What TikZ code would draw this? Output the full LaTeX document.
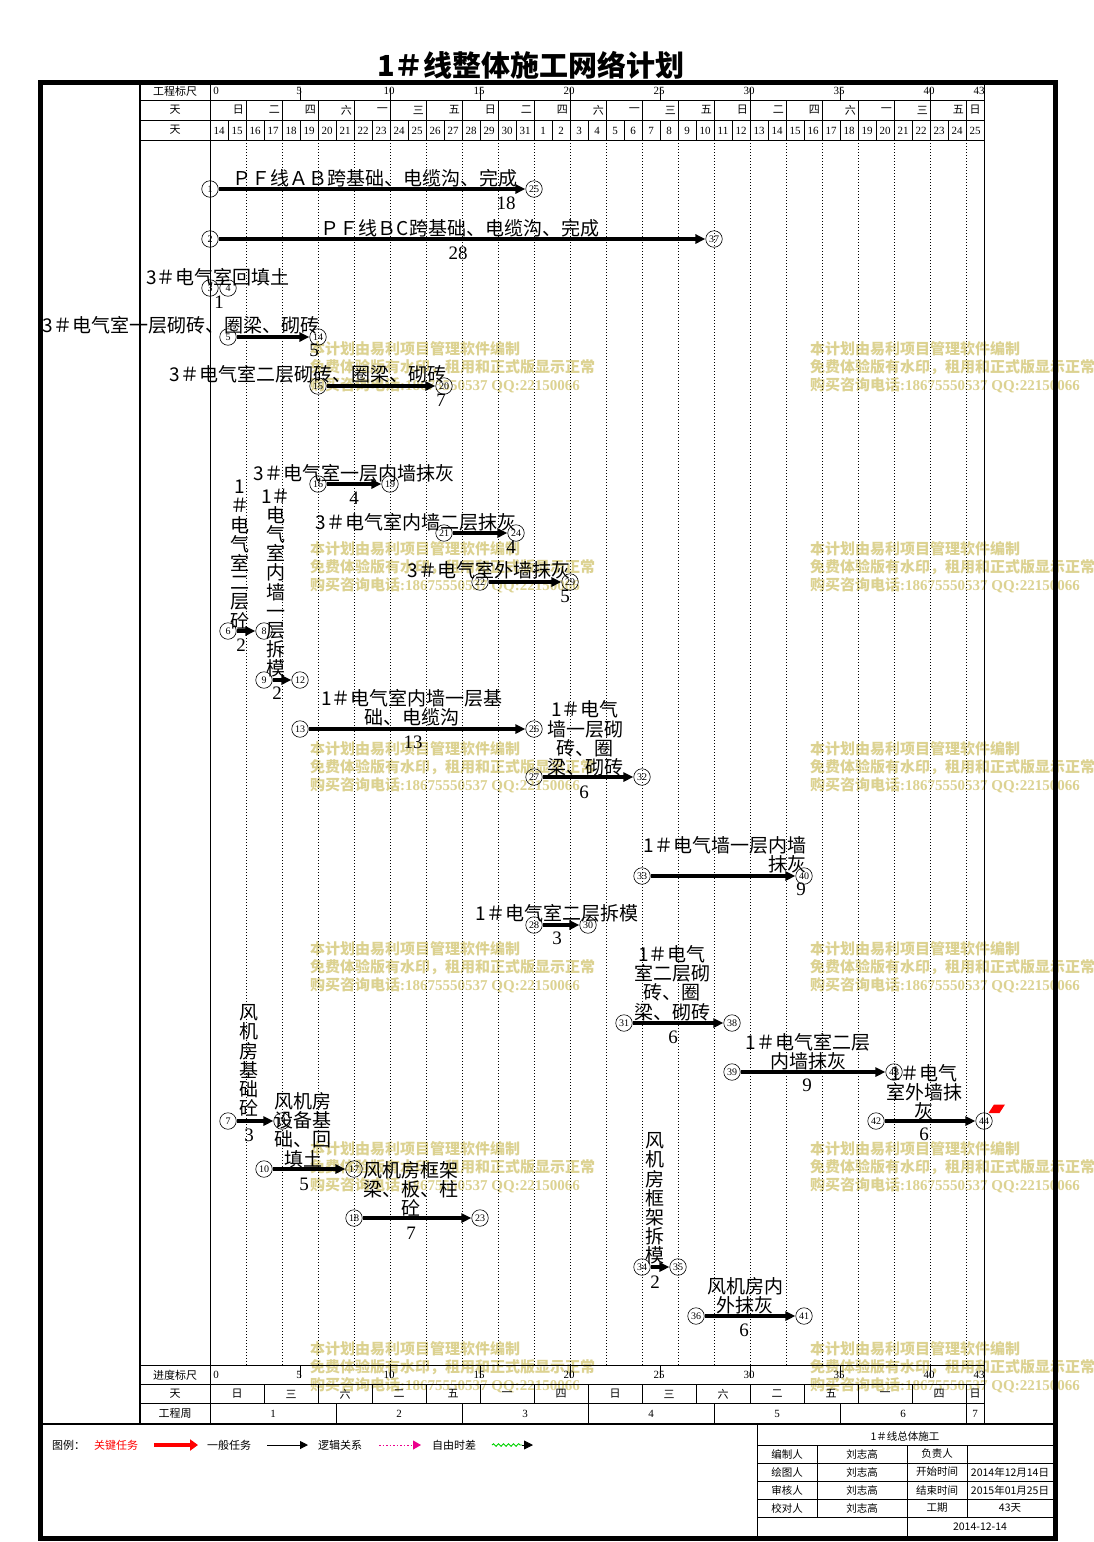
\documentclass[tikz,border=0pt]{standalone}
\usepackage{fontspec}
\setmainfont{Liberation Serif}
\newfontfamily\cjk{Noto Sans CJK SC}
\usetikzlibrary{arrows.meta,decorations.pathmorphing}
\definecolor{wmc}{RGB}{220,210,145}
\definecolor{lgreen}{RGB}{0,210,0}
\begin{document}
\begin{tikzpicture}[x=1pt,y=-1pt,
  ev/.style={circle,draw,line width=0.6pt,minimum size=16.5pt,inner sep=0pt,font=\fontsize{10}{10}\selectfont},
  act/.style={line width=3.3pt,-{Triangle[length=10pt,width=9pt]}},
  lbl/.style={font=\cjk\fontsize{19}{19.2}\selectfont,inner sep=0pt,align=center},
  dur/.style={font=\fontsize{19}{19}\selectfont,inner sep=0pt},
  hd/.style={font=\cjk\fontsize{11}{11}\selectfont,inner sep=0pt},
  hn/.style={font=\fontsize{11}{11}\selectfont,inner sep=0pt},
  tb/.style={font=\cjk\fontsize{10.5}{11}\selectfont,inner sep=0pt},
  wm/.style={font=\cjk\bfseries\fontsize{15}{18}\selectfont,text=wmc,inner sep=0pt,anchor=west,align=left},
  gridl/.style={line width=0.8pt},
  dotl/.style={line width=0.6pt,dash pattern=on 1pt off 2pt},
]
\useasboundingbox (0,0) rectangle (1094,1542);
\fill[white] (0,0) rectangle (1094,1542);

% ---------- watermarks ----------
\foreach \wx in {310,810}{
  \foreach \wy in {367,567,767,967,1167,1367}{
    \node[wm] at (\wx,\wy) {本计划由易利项目管理软件编制\\免费体验版有水印，租用和正式版显示正常\\购买咨询电话{\rmfamily\bfseries :18675550537 QQ:22150066}};
  }
}

% ---------- title ----------
\node[font=\cjk\bfseries\fontsize{29}{29}\selectfont,inner sep=0pt] (title) at (531,65) {1＃线整体施工网络计划};

% ---------- frame and grid ----------
\draw[line width=4.5pt] (40.5,82.5) rectangle (1055.5,1538.5);
\draw[line width=1.2pt] (140,82) -- (140,1424);
\draw[gridl] (210,82) -- (210,1424);
\draw[gridl] (984,82) -- (984,1424);
\foreach \y in {100,120,140,1365,1384,1403} \draw[gridl] (140,\y) -- (984,\y);
\draw[line width=1.5pt] (40,1424) -- (1056,1424);
\foreach \k in {1,...,21} \draw[gridl] ({210+36*\k},100) -- ({210+36*\k},120);
\foreach \k in {1,...,42} \draw[gridl] ({210+18*\k},120) -- ({210+18*\k},140);
\foreach \n in {5,10,...,40} {
  \draw[gridl] ({210+18*\n},88) -- ({210+18*\n},100);
  \node[hn] at ({209+18*\n},91) {\n};
  \draw[gridl] ({210+18*\n},1365) -- ({210+18*\n},1378);
  \node[hn] at ({209+18*\n},1375) {\n};
}
\node[hn] at (216,91) {0};
\node[hn] at (979,91) {43};
\node[hn] at (216,1375) {0};
\node[hn] at (979,1375) {43};
\foreach \k in {1,...,21} \draw[dotl] ({210+36*\k},140) -- ({210+36*\k},1365);

% header labels
\node[hd] (h1) at (175,91) {工程标尺};
\node[hd] (h2) at (175,110) {天};
\node[hd] (h3) at (175,130) {天};
\node[hd] (h4) at (175,1375) {进度标尺};
\node[hd] (h5) at (175,1394) {天};
\node[hd] (h6) at (175,1413) {工程周};

\foreach \w [count=\i from 1] in {日,二,四,六,一,三,五,日,二,四,六,一,三,五,日,二,四,六,一,三,五}
  \node[hd,anchor=east] at ({210+36*\i-2},110) {\w};
\node[hd] at (975,110) {日};
\foreach \d [count=\i from 0] in {14,15,16,17,18,19,20,21,22,23,24,25,26,27,28,29,30,31,1,2,3,4,5,6,7,8,9,10,11,12,13,14,15,16,17,18,19,20,21,22,23,24,25}
  \node[hn] at ({219+18*\i},130.5) {\d};

\foreach \k in {1,...,14} \draw[gridl] ({210+54*\k},1384) -- ({210+54*\k},1403);
\foreach \w [count=\i from 0] in {日,三,六,二,五,一,四,日,三,六,二,五,一,四}
  \node[hd] at ({237+54*\i},1394) {\w};
\node[hd] at (975,1394) {日};
\foreach \k in {1,...,6} \draw[gridl] ({210+126*\k},1403) -- ({210+126*\k},1424);
\foreach \k in {1,...,6} \node[hn] at ({147+126*\k},1413.5) {\k};
\node[hn] at (975,1413.5) {7};

% ---------- task labels ----------
\node[lbl] (t1) at (375,178) {ＰＦ线ＡＢ跨基础、电缆沟、完成};
\node[dur] (d1) at (506,203) {18};
\node[lbl] (t2) at (460,228) {ＰＦ线ＢC跨基础、电缆沟、完成};
\node[dur] (d2) at (458,253) {28};
\node[lbl] (t3) at (218,277) {3＃电气室回填土};
\node[dur] (d3) at (219,302) {1};
\node[lbl] (t4) at (181,325) {3＃电气室一层砌砖、圈梁、砌砖};
\node[dur] (d4) at (314,350) {5};
\node[lbl] (t5) at (308,374) {3＃电气室二层砌砖、圈梁、砌砖};
\node[dur] (d5) at (441,400) {7};
\node[lbl] (t6) at (354,473) {3＃电气室一层内墙抹灰};
\node[dur] (d6) at (354,498) {4};
\node[lbl] (t7) at (416,522) {3＃电气室内墙二层抹灰};
\node[dur] (d7) at (511,547) {4};
\node[lbl] (t8) at (489,570) {3＃电气室外墙抹灰};
\node[dur] (d8) at (565,596) {5};
\node[lbl] (t9) at (240,554.5) {1\\＃\\电\\气\\室\\二\\层\\砼};
\node[dur] (d9) at (241,645) {2};
\node[lbl] (t10) at (276,583) {1＃\\电\\气\\室\\内\\墙\\一\\层\\拆\\模};
\node[dur] (d10) at (277,693) {2};
\node[lbl] (t11) at (412,707.5) {1＃电气室内墙一层基\\础、电缆沟};
\node[dur] (d11) at (413,742) {13};
\node[lbl] (t12) at (585,738.5) {1＃电气\\墙一层砌\\砖、圈\\梁、砌砖};
\node[dur] (d12) at (584,792) {6};
\node[lbl,align=right] (t13) at (725,855) {1＃电气墙一层内墙\\抹灰};
\node[dur] (d13) at (801,889) {9};
\node[lbl] (t14) at (557,913) {1＃电气室二层拆模};
\node[dur] (d14) at (557,938) {3};
\node[lbl] (t15) at (672,983) {1＃电气\\室二层砌\\砖、圈\\梁、砌砖};
\node[dur] (d15) at (673,1037) {6};
\node[lbl] (t16) at (808,1051.5) {1＃电气室二层\\内墙抹灰};
\node[dur] (d16) at (807,1085) {9};
\node[lbl] (t17) at (924,1092) {1＃电气\\室外墙抹\\灰};
\node[dur] (d17) at (924,1134) {6};
\node[lbl] (t18) at (249,1060.5) {风\\机\\房\\基\\础\\砼};
\node[dur] (d18) at (249,1135) {3};
\node[lbl] (t19) at (303,1130) {风机房\\设备基\\础、回\\填土};
\node[dur] (d19) at (304,1184) {5};
\node[lbl] (t20) at (411,1189) {风机房框架\\梁、板、柱\\砼};
\node[dur] (d20) at (411,1233) {7};
\node[lbl] (t21) at (655,1198.5) {风\\机\\房\\框\\架\\拆\\模};
\node[dur] (d21) at (655,1282) {2};
\node[lbl] (t22) at (745,1296) {风机房内\\外抹灰};
\node[dur] (d22) at (744,1330) {6};

% ---------- events ----------
\node[ev] (n1) at (210,189) {1};
\node[ev] (n25) at (534,189) {25};
\node[ev] (n2) at (210,239) {2};
\node[ev] (n37) at (714,239) {37};
\node[ev] (n3) at (210,288) {3};
\node[ev] (n4) at (228,288) {4};
\node[ev] (n5) at (228,337) {5};
\node[ev] (n14) at (318,337) {14};
\node[ev] (n15) at (318,386) {15};
\node[ev] (n20) at (444,386) {20};
\node[ev] (n16) at (318,484) {16};
\node[ev] (n19) at (390,484) {19};
\node[ev] (n21) at (444,533) {21};
\node[ev] (n24) at (516,533) {24};
\node[ev] (n22) at (480,582) {22};
\node[ev] (n29) at (570,582) {29};
\node[ev] (n6) at (228,631) {6};
\node[ev] (n8) at (264,631) {8};
\node[ev] (n9) at (264,680) {9};
\node[ev] (n12) at (300,680) {12};
\node[ev] (n13) at (300,729) {13};
\node[ev] (n26) at (534,729) {26};
\node[ev] (n27) at (534,777) {27};
\node[ev] (n32) at (642,777) {32};
\node[ev] (n33) at (642,876) {33};
\node[ev] (n40) at (804,876) {40};
\node[ev] (n28) at (534,925) {28};
\node[ev] (n30) at (588,925) {30};
\node[ev] (n31) at (624,1023) {31};
\node[ev] (n38) at (732,1023) {38};
\node[ev] (n39) at (732,1072) {39};
\node[ev] (n43) at (894,1072) {43};
\node[ev] (n42) at (876,1121) {42};
\node[ev] (n44) at (984,1121) {44};
\node[ev] (n7) at (228,1121) {7};
\node[ev] (n11) at (282,1121) {11};
\node[ev] (n10) at (264,1169) {10};
\node[ev] (n17) at (354,1169) {17};
\node[ev] (n18) at (354,1218) {18};
\node[ev] (n23) at (480,1218) {23};
\node[ev] (n34) at (642,1267) {34};
\node[ev] (n35) at (678,1267) {35};
\node[ev] (n36) at (696,1316) {36};
\node[ev] (n41) at (804,1316) {41};

\fill[red] (994,1104.5) -- (1005,1104.5) -- (999.5,1113) -- (988.5,1113) -- cycle;

% ---------- activities ----------
\draw[act] (n1) -- (n25);
\draw[act] (n2) -- (n37);
\draw[act] (n5) -- (n14);
\draw[act] (n15) -- (n20);
\draw[act] (n16) -- (n19);
\draw[act] (n21) -- (n24);
\draw[act] (n22) -- (n29);
\draw[act] (n6) -- (n8);
\draw[act] (n9) -- (n12);
\draw[act] (n13) -- (n26);
\draw[act] (n27) -- (n32);
\draw[act] (n33) -- (n40);
\draw[act] (n28) -- (n30);
\draw[act] (n31) -- (n38);
\draw[act] (n39) -- (n43);
\draw[act] (n42) -- (n44);
\draw[act] (n7) -- (n11);
\draw[act] (n10) -- (n17);
\draw[act] (n18) -- (n23);
\draw[act] (n34) -- (n35);
\draw[act] (n36) -- (n41);

% ---------- legend ----------
\node[hd,anchor=west] (lg0) at (52,1445) {图例：};
\node[hd,anchor=west,text=red] (lg1) at (94,1445) {关键任务};
\coordinate (ra) at (154,1445); \coordinate (rb) at (198,1445);
\draw[red,line width=3.5pt,-{Triangle[length=8pt,width=11pt]}] (ra) -- (rb);
\node[hd,anchor=west] (lg2) at (207,1445) {一般任务};
\coordinate (ba) at (267,1445); \coordinate (bb) at (308,1445);
\draw[line width=1pt,-{Triangle[length=8pt,width=8pt]}] (ba) -- (bb);
\node[hd,anchor=west] (lg3) at (318,1445) {逻辑关系};
\coordinate (ma) at (379,1445); \coordinate (mb) at (421,1445);
\draw[magenta,line width=1pt,dash pattern=on 1.5pt off 2pt,-{Triangle[length=8pt,width=9pt]}] (ma) -- (mb);
\node[hd,anchor=west] (lg4) at (432,1445) {自由时差};
\coordinate (ga) at (492,1445); \coordinate (gb) at (522,1445); \coordinate (gc) at (533,1445);
\draw[lgreen,line width=0.9pt,decorate,decoration={snake,amplitude=1.3pt,segment length=5pt}] (ga) -- (gb);
\draw[line width=0.8pt,-{Triangle[length=9pt,width=9pt]}] (gb) -- (gc);

% ---------- title block ----------
\draw[gridl] (757,1424) -- (757,1538);
\foreach \y in {1445,1463,1481,1499,1517} \draw[gridl] (757,\y) -- (1055,\y);
\draw[gridl] (817,1445) -- (817,1517);
\draw[gridl] (907,1445) -- (907,1538);
\draw[gridl] (967,1445) -- (967,1517);
\node[tb] (tbt) at (905,1436) {1＃线总体施工};
\node[tb] at (787,1454) {编制人};
\node[tb] at (862,1454) {刘志高};
\node[tb] at (937,1454) {负责人};
\node[tb] at (787,1472) {绘图人};
\node[tb] at (862,1472) {刘志高};
\node[tb] at (937,1472) {开始时间};
\node[tb] at (1010,1472) {2014年12月14日};
\node[tb] at (787,1490) {审核人};
\node[tb] at (862,1490) {刘志高};
\node[tb] at (937,1490) {结束时间};
\node[tb] at (1010,1490) {2015年01月25日};
\node[tb] at (787,1508) {校对人};
\node[tb] at (862,1508) {刘志高};
\node[tb] at (937,1508) {工期};
\node[tb] at (1010,1508) {43天};
\node[tb] at (980,1527) {2014-12-14};
\end{tikzpicture}
\end{document}
